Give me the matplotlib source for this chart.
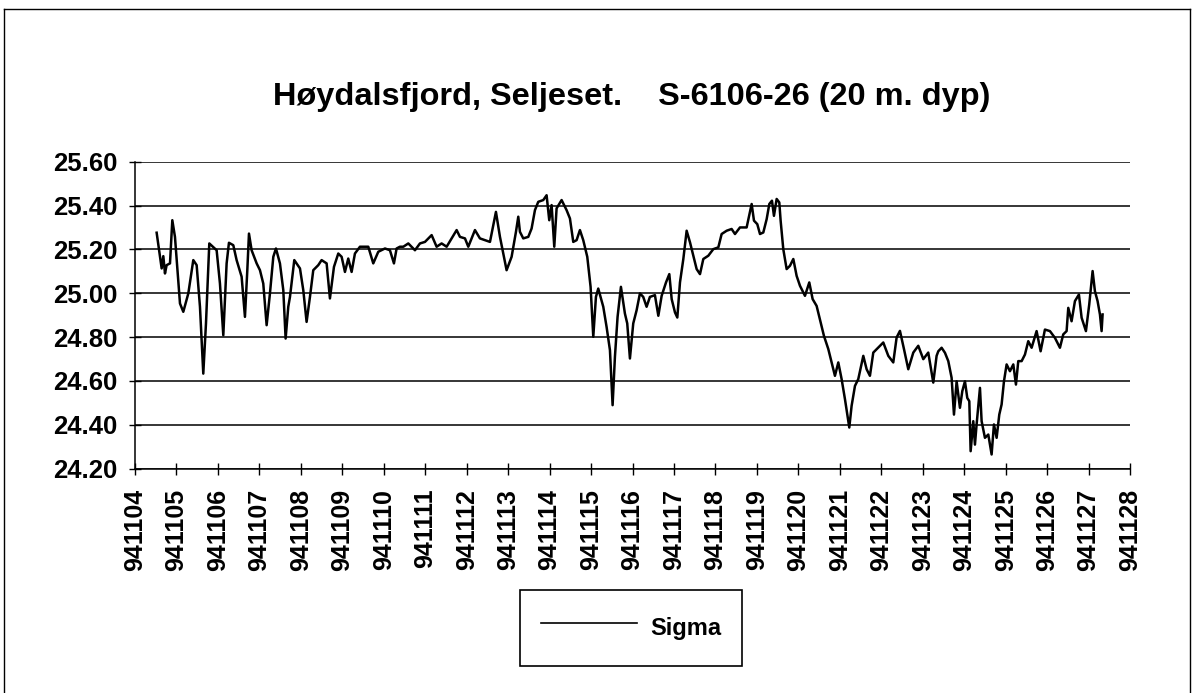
import matplotlib
matplotlib.use("Agg")
import matplotlib.pyplot as plt
from matplotlib.lines import Line2D

plt.rcParams['font.family'] = ['Liberation Sans', 'DejaVu Sans']

# Time in days of November 1994 (4.0 = 941104 00:00) and density anomaly sigma
day = [
    4.522, 4.643, 4.683, 4.723, 4.763, 4.844, 4.900, 4.964, 5.085, 5.165,
    5.286, 5.406, 5.487, 5.567, 5.647, 5.712, 5.792, 5.969, 6.049, 6.130,
    6.210, 6.266, 6.371, 6.451, 6.572, 6.652, 6.709, 6.749, 6.813, 6.934,
    7.014, 7.094, 7.175, 7.255, 7.336, 7.400, 7.496, 7.577, 7.633, 7.697,
    7.738, 7.842, 7.979, 8.059, 8.139, 8.220, 8.300, 8.421, 8.501, 8.622,
    8.702, 8.799, 8.903, 8.984, 9.064, 9.144, 9.225, 9.305, 9.426, 9.627,
    9.747, 9.868, 10.029, 10.149, 10.246, 10.310, 10.390,
    10.472, 10.592, 10.753, 10.873, 10.994, 11.155, 11.275, 11.396, 11.517, 11.637,
    11.758, 11.838, 11.959, 12.039, 12.200, 12.320, 12.441, 12.562, 12.706, 12.803,
    12.883, 12.963, 13.084, 13.189, 13.245, 13.285, 13.365, 13.486, 13.566, 13.647,
    13.727, 13.848, 13.928, 13.992, 14.049, 14.113, 14.169, 14.290, 14.410, 14.491,
    14.571, 14.652, 14.732, 14.812, 14.909, 14.989, 15.054, 15.118, 15.174, 15.230,
    15.295, 15.375, 15.456, 15.520, 15.576, 15.640, 15.721, 15.817, 15.873, 15.938,
    16.018, 16.099, 16.179, 16.259, 16.340, 16.420, 16.541,
    16.623, 16.703, 16.808, 16.888, 16.945, 17.025, 17.081, 17.145, 17.226, 17.306,
    17.387, 17.467, 17.547, 17.628, 17.708, 17.829, 17.949, 18.070, 18.150, 18.271,
    18.391, 18.472, 18.592, 18.753, 18.874, 18.930, 19.010, 19.075, 19.155, 19.236,
    19.300, 19.364, 19.412, 19.477, 19.541, 19.573, 19.637, 19.718, 19.798, 19.879,
    19.959, 20.039, 20.160, 20.264, 20.345, 20.441, 20.538, 20.618, 20.723, 20.803,
    20.883, 20.964, 21.044, 21.125, 21.229, 21.285, 21.366, 21.446, 21.567, 21.647,
    21.727, 21.808, 21.928, 22.049, 22.170, 22.290, 22.371, 22.451, 22.548, 22.652,
    22.773, 22.893, 23.014, 23.134, 23.255, 23.335,
    23.376, 23.456, 23.537, 23.617, 23.697, 23.754, 23.818, 23.898, 23.955, 24.019,
    24.075, 24.124, 24.156, 24.220, 24.260, 24.300, 24.381, 24.421, 24.501, 24.582,
    24.662, 24.718, 24.783, 24.847, 24.903, 24.960, 25.024, 25.104, 25.185, 25.249,
    25.305, 25.386, 25.466, 25.546, 25.627, 25.747, 25.844, 25.948, 26.069, 26.190,
    26.310, 26.390, 26.471, 26.511, 26.591, 26.672, 26.768, 26.833, 26.937, 27.017,
    27.098, 27.154, 27.218, 27.275, 27.315, 27.339,
]
sigma = [
    25.276, 25.113, 25.169, 25.090, 25.128, 25.136, 25.333, 25.257, 24.953, 24.915,
    24.999, 25.151, 25.128, 24.938, 24.633, 24.862, 25.227, 25.196, 25.044, 24.808,
    25.136, 25.230, 25.219, 25.151, 25.075, 24.892, 25.105, 25.272, 25.196, 25.136,
    25.105, 25.044, 24.854, 24.999, 25.166, 25.204, 25.136, 25.014, 24.793, 24.938,
    24.983, 25.151, 25.113, 25.014, 24.869, 24.983, 25.105, 25.128, 25.151, 25.136,
    24.976, 25.120, 25.181, 25.166, 25.097, 25.158, 25.097, 25.181, 25.212, 25.212,
    25.136, 25.189, 25.204, 25.196, 25.136, 25.204, 25.212,
    25.212, 25.227, 25.196, 25.227, 25.234, 25.265, 25.212, 25.227, 25.212, 25.250,
    25.288, 25.257, 25.250, 25.212, 25.288, 25.250, 25.242, 25.234, 25.371, 25.257,
    25.181, 25.105, 25.166, 25.280, 25.349, 25.280, 25.250, 25.257, 25.295, 25.379,
    25.417, 25.425, 25.447, 25.333, 25.402, 25.212, 25.387, 25.425, 25.379, 25.341,
    25.234, 25.242, 25.288, 25.242, 25.166, 25.029, 24.801, 24.983, 25.021, 24.983,
    24.938, 24.846, 24.740, 24.489, 24.709, 24.892, 25.029, 24.907, 24.862, 24.702,
    24.862, 24.922, 24.999, 24.983, 24.938, 24.983, 24.991,
    24.897, 24.988, 25.049, 25.087, 24.973, 24.912, 24.889, 25.049, 25.156, 25.285,
    25.232, 25.171, 25.110, 25.087, 25.156, 25.171, 25.201, 25.209, 25.270, 25.285,
    25.293, 25.270, 25.300, 25.300, 25.407, 25.331, 25.315, 25.270, 25.277, 25.338,
    25.407, 25.422, 25.353, 25.430, 25.414, 25.331, 25.201, 25.110, 25.125, 25.156,
    25.079, 25.034, 24.988, 25.049, 24.973, 24.942, 24.866, 24.805, 24.745, 24.684,
    24.623, 24.684, 24.608, 24.516, 24.387, 24.486, 24.577, 24.608, 24.714, 24.653,
    24.623, 24.729, 24.752, 24.775, 24.714, 24.684, 24.798, 24.828, 24.745, 24.653,
    24.729, 24.760, 24.699, 24.729, 24.592, 24.714,
    24.735, 24.751, 24.728, 24.690, 24.614, 24.446, 24.598, 24.477, 24.553, 24.598,
    24.522, 24.507, 24.279, 24.416, 24.309, 24.401, 24.568, 24.416, 24.340, 24.355,
    24.264, 24.401, 24.340, 24.446, 24.492, 24.598, 24.675, 24.644, 24.675, 24.583,
    24.690, 24.690, 24.720, 24.781, 24.751, 24.827, 24.735, 24.834, 24.827, 24.796,
    24.751, 24.812, 24.827, 24.933, 24.872, 24.964, 24.994, 24.888, 24.827, 24.949,
    25.101, 25.009, 24.964, 24.903, 24.827, 24.903,
]

tick_days = list(range(4, 29))
tick_labels = [f"9411{d:02d}" for d in tick_days]
y_ticks = [24.20, 24.40, 24.60, 24.80, 25.00, 25.20, 25.40, 25.60]

title = "Høydalsfjord, Seljeset.    S-6106-26 (20 m. dyp)"
series_name = "Sigma"

W, H = 1194, 693
fig = plt.figure(figsize=(W / 100, H / 100), dpi=100)
fig.patch.set_facecolor("white")

ax = fig.add_axes([135 / W, 1 - 468.5 / H, (1130 - 135) / W, (468.5 - 161.7) / H])
line, = ax.plot(day, sigma, color="black", linewidth=1.8, label=series_name)

ax.set_xlim(4, 28)
ax.set_ylim(24.20, 25.60)
ax.set_xticks(tick_days)
ax.set_xticklabels(tick_labels, rotation=90, fontsize=18, fontweight="bold")
ax.set_yticks(y_ticks)
ax.set_yticklabels([f"{v:.2f}" for v in y_ticks], fontsize=18.5, fontweight="bold")
ax.tick_params(axis="both", direction="inout", length=9, width=1.0, color="black")
ax.tick_params(axis="x", pad=10)
ax.tick_params(axis="y", pad=8)

ax.grid(axis="y", color="black", linewidth=1.1)
ax.set_axisbelow(True)
for side in ("top", "right"):
    ax.spines[side].set_visible(False)
for side in ("left", "bottom"):
    ax.spines[side].set_linewidth(1.1)
    ax.spines[side].set_color("black")

fig.text(632 / W, 1 - 105 / H, title, ha="center", va="baseline",
         fontsize=23.4, fontweight="bold")

leg = fig.legend(handles=[line], loc="center",
                 bbox_to_anchor=(631 / W, 1 - 628 / H),
                 fontsize=17, handlelength=4.1, handletextpad=0.55,
                 handleheight=2.0, borderpad=0.85, fancybox=False,
                 framealpha=1, edgecolor="black", shadow=False)
leg.get_frame().set_linewidth(1.2)
for t in leg.get_texts():
    t.set_fontweight("bold")
for h in leg.legend_handles:
    h.set_linewidth(1.2)

# Outer frame around the chart
for xs, ys in (([4 / W, 4 / W], [0, 1 - 9 / H]),
               ([4 / W, 1190 / W], [1 - 9 / H, 1 - 9 / H]),
               ([1190 / W, 1190 / W], [0, 1 - 9 / H])):
    fig.add_artist(Line2D(xs, ys, transform=fig.transFigure,
                          color="black", linewidth=1.0))

fig.savefig("out.png", dpi=100, facecolor="white")
